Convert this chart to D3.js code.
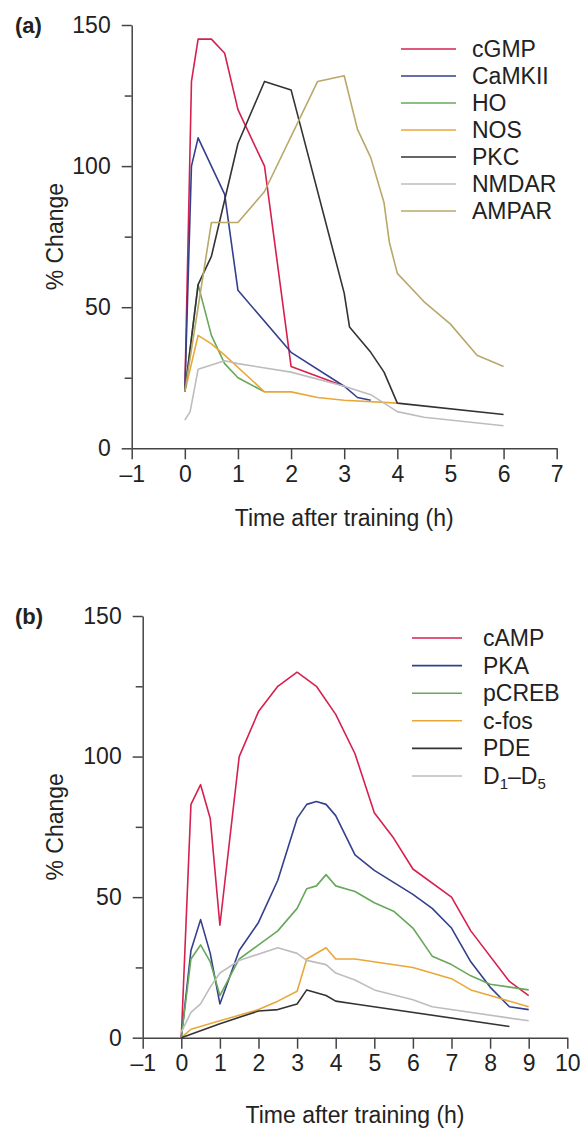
<!DOCTYPE html>
<html>
<head>
<meta charset="utf-8">
<script src="https://cdn.jsdelivr.net/npm/d3@7"></script>
<style>
  html, body { margin: 0; padding: 0; background: #fff; }
  svg { display: block; }
  text { font-family: "Liberation Sans", Arial, Helvetica, sans-serif; fill: #222; }
</style>
</head>
<body>
<svg id="chart" width="584" height="1128"></svg>
<script>
// ---------- Panel (a) data ----------
const namesA = ["cGMP", "CaMKII", "HO", "NOS", "PKC", "NMDAR", "AMPAR"];
const cGMP   = [[0,20],[0.125,130],[0.25,145],[0.5,145],[0.75,140],[1,120],[1.5,100],[2,29],[3,22]];
const CaMKII = [[0,20],[0.125,100],[0.25,110],[0.75,90],[1,56],[2,34],[3,22],[3.25,18],[3.5,17]];
const HO     = [[0,20],[0.25,58],[0.5,40],[0.75,30],[1,25],[1.5,20]];
const NOS    = [[0,20],[0.25,40],[0.5,37],[0.75,33],[1.5,20],[2,20],[2.5,18],[3,17],[4,16]];
const PKC    = [[0,20],[0.25,58],[0.5,68],[1,108],[1.5,130],[2,127],[3,55],[3.1,43],[3.5,34],[3.75,27],[4,16],[6,12]];
const NMDAR  = [[0,10],[0.1,13],[0.25,28],[0.75,31],[1,30],[2,27],[3,22],[3.5,19],[3.75,16],[4,13],[4.5,11],[6,8]];
const AMPAR  = [[0,20],[0.5,80],[1,80],[1.5,91],[2.5,130],[3,132],[3.25,113],[3.5,103],[3.75,87],[3.85,73],[4,62],[4.5,52],[5,44],[5.5,33],[6,29]];
const xTicksA = [-1,0,1,2,3,4,5,6,7];

// ---------- Panel (b) data ----------
const namesB = ["cAMP", "PKA", "pCREB", "c-fos", "PDE", "D1–D5"];
const cAMP  = [[0,0],[0.25,83],[0.5,90],[0.75,78],[1,40],[1.5,100],[2,116],[2.5,125],[3,130],[3.5,125],[4,115],[4.5,101],[5,80],[5.5,71],[6,60],[7,50],[7.5,38],[8.5,20],[9,15]];
const PKA   = [[0,0],[0.25,31],[0.5,42],[0.75,30],[1,12],[1.5,31],[2,41],[2.5,56],[3,78],[3.25,83],[3.5,84],[3.75,83],[4,79],[4.5,65],[5,59.5],[6,51],[6.5,46],[7,39],[7.5,27],[8,18],[8.5,11],[9,10]];
const pCREB = [[0,0],[0.25,28],[0.5,33],[0.75,27],[1,15],[1.5,28],[2.5,38],[3,46],[3.25,53],[3.5,54],[3.75,58],[4,54],[4.5,52],[5,48],[5.5,45],[6,39],[6.5,29],[7,26],[7.5,22],[8,19],[9,17]];
const cfos  = [[0,0],[0.25,3],[1,6],[2,10],[2.5,13],[3,16.5],[3.25,28],[3.75,32],[4,28],[4.5,28],[6,25],[7,21],[7.5,17],[8,15],[9,11]];
const PDE   = [[0,0],[1,5],[2,9.5],[2.5,10],[3,12],[3.25,17],[3.75,15],[4,13],[4.5,12],[8.5,4]];
const D1D5  = [[0,2],[0.25,9],[0.5,12],[0.75,18],[1,23],[1.5,27.5],[2.5,32],[3,30],[3.25,27.5],[3.75,26],[4,23],[4.5,20.5],[5,17],[6,13.5],[6.5,11],[9,6]];
const xTicksB = [-1,0,1,2,3,4,5,6,7,8,9,10];

const yMajor = [0, 50, 100, 150];
const yMinor = [25, 75, 125];

const colors = {
  red: "#d6204e", blue: "#34408c", green: "#67a85a", orange: "#e8a838",
  black: "#333333", gray: "#bdbdbd", olive: "#b8a86a"
};

const seriesA = [
  {name: namesA[0], data: cGMP,   color: colors.red},
  {name: namesA[1], data: CaMKII, color: colors.blue},
  {name: namesA[2], data: HO,     color: colors.green},
  {name: namesA[3], data: NOS,    color: colors.orange},
  {name: namesA[4], data: PKC,    color: colors.black},
  {name: namesA[5], data: NMDAR,  color: colors.gray},
  {name: namesA[6], data: AMPAR,  color: colors.olive}
];
const seriesB = [
  {name: namesB[0], data: cAMP,  color: colors.red},
  {name: namesB[1], data: PKA,   color: colors.blue},
  {name: namesB[2], data: pCREB, color: colors.green},
  {name: namesB[3], data: cfos,  color: colors.orange},
  {name: namesB[4], data: PDE,   color: colors.black},
  {name: namesB[5], data: D1D5,  color: colors.gray}
];

const svg = d3.select("#chart");
const FS = 23;
const axisColor = "#444";

function drawPanel(cfg) {
  const x = d3.scaleLinear().domain(cfg.xDomain).range(cfg.xRange);
  const y = d3.scaleLinear().domain([0, 150]).range(cfg.yRange);
  const g = svg.append("g");

  const xa = g.append("g").attr("transform", `translate(0,${cfg.yRange[0]})`)
    .call(d3.axisBottom(x).tickValues(cfg.xTicks).tickSizeInner(11).tickSizeOuter(0).tickPadding(6)
      .tickFormat(d => d < 0 ? "\u2013" + Math.abs(d) : d));
  const ya = g.append("g").attr("transform", `translate(${cfg.xRange[0]},0)`)
    .call(d3.axisLeft(y).tickValues(yMajor).tickSizeInner(10).tickSizeOuter(0).tickPadding(11));
  const ym = g.append("g").attr("transform", `translate(${cfg.xRange[0]},0)`)
    .call(d3.axisLeft(y).tickValues(yMinor).tickSizeInner(7).tickSizeOuter(0).tickFormat(""));
  ym.select(".domain").remove();

  [xa, ya, ym].forEach(a => {
    a.selectAll("path, line").attr("stroke", axisColor).attr("stroke-width", 1.5);
    a.selectAll("text").attr("font-size", FS).attr("font-family", "Liberation Sans, Arial, sans-serif").attr("fill", "#222");
  });

  const line = d3.line().x(d => x(d[0])).y(d => y(d[1]));
  g.selectAll("path.series").data(cfg.series).enter().append("path")
    .attr("class", "series")
    .attr("d", d => line(d.data))
    .attr("fill", "none")
    .attr("stroke", d => d.color)
    .attr("stroke-width", 1.6)
    .attr("stroke-linejoin", "round");

  g.append("text").attr("x", 15).attr("y", cfg.yRange[1] + 8)
    .attr("font-size", 22).attr("font-weight", "bold").text(cfg.label);

  const ymid = (cfg.yRange[0] + cfg.yRange[1]) / 2;
  g.append("text").attr("transform", `translate(63,${ymid}) rotate(-90)`)
    .attr("text-anchor", "middle").attr("font-size", FS).text("% Change");

  const xmid = (cfg.xRange[0] + cfg.xRange[1]) / 2;
  g.append("text").attr("x", xmid).attr("y", cfg.yRange[0] + cfg.xLabelOffset)
    .attr("text-anchor", "middle").attr("font-size", FS).text("Time after training (h)");

  const lg = g.append("g");
  cfg.series.forEach((s, i) => {
    const ly = cfg.legend.y0 + i * cfg.legend.dy;
    lg.append("line").attr("x1", cfg.legend.x1).attr("x2", cfg.legend.x2)
      .attr("y1", ly).attr("y2", ly).attr("stroke", s.color).attr("stroke-width", 1.6);
    const t = lg.append("text").attr("x", cfg.legend.tx).attr("y", ly + 8).attr("font-size", FS);
    if (s.name === "D1–D5") {
      t.append("tspan").text("D");
      t.append("tspan").attr("font-size", 15).attr("dy", 5).text("1");
      t.append("tspan").attr("dy", -5).text("–D");
      t.append("tspan").attr("font-size", 15).attr("dy", 5).text("5");
    } else {
      t.text(s.name);
    }
  });
}

drawPanel({
  label: "(a)",
  xDomain: [-1, 7], xRange: [131.7, 556.7], yRange: [448.3, 25],
  xTicks: xTicksA, series: seriesA, xLabelOffset: 78,
  legend: {x1: 401, x2: 456, tx: 472, y0: 49, dy: 27}
});

drawPanel({
  label: "(b)",
  xDomain: [-1, 10], xRange: [142.7, 567.3], yRange: [1037.7, 616],
  xTicks: xTicksB, series: seriesB, xLabelOffset: 85,
  legend: {x1: 412, x2: 462, tx: 483, y0: 638, dy: 27.6}
});
</script>
</body>
</html>
